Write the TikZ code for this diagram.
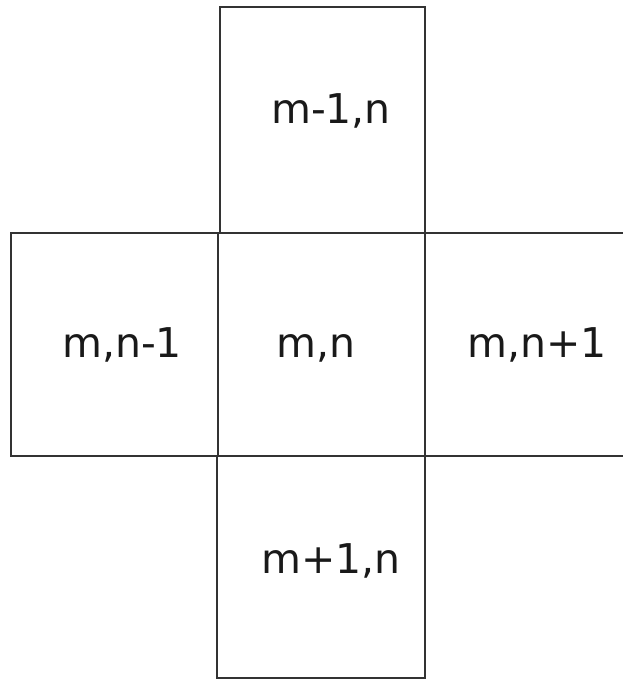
\documentclass[tikz,border=0pt]{standalone}
\usepackage{fontspec}
\setmainfont{DejaVu Sans}
\definecolor{edge}{HTML}{333333}
\begin{document}
\begin{tikzpicture}[x=1pt,y=-1pt,
  cell/.style={draw=edge,line width=2.5pt,inner sep=0pt,minimum width=#1},
  lbl/.style={font=\fontsize{41}{48}\selectfont,anchor=base,inner sep=0pt,text=black!90}]
\useasboundingbox (0,0) rectangle (623,680);
\begin{scope}
\clip (0,0) rectangle (623,680);
\node[cell=205pt,minimum height=226pt] (top) at (322.5,120) {};
\node[cell=207pt,minimum height=223pt] (left) at (114.5,344.5) {};
\node[cell=207pt,minimum height=223pt] (mid) at (321.5,344.5) {};
\node[cell=207pt,minimum height=223pt] (right) at (528.5,344.5) {};
\node[cell=208pt,minimum height=222pt] (bot) at (321,567) {};
\end{scope}
\node[lbl] (t1) at (331,123) {m-1,n};
\node[lbl] (t2) at (122,357) {m,n-1};
\node[lbl] (t3) at (316,357) {m,n};
\node[lbl] (t4) at (537,357) {m,n+1};
\node[lbl] (t5) at (331,573) {m+1,n};
\end{tikzpicture}
\end{document}
